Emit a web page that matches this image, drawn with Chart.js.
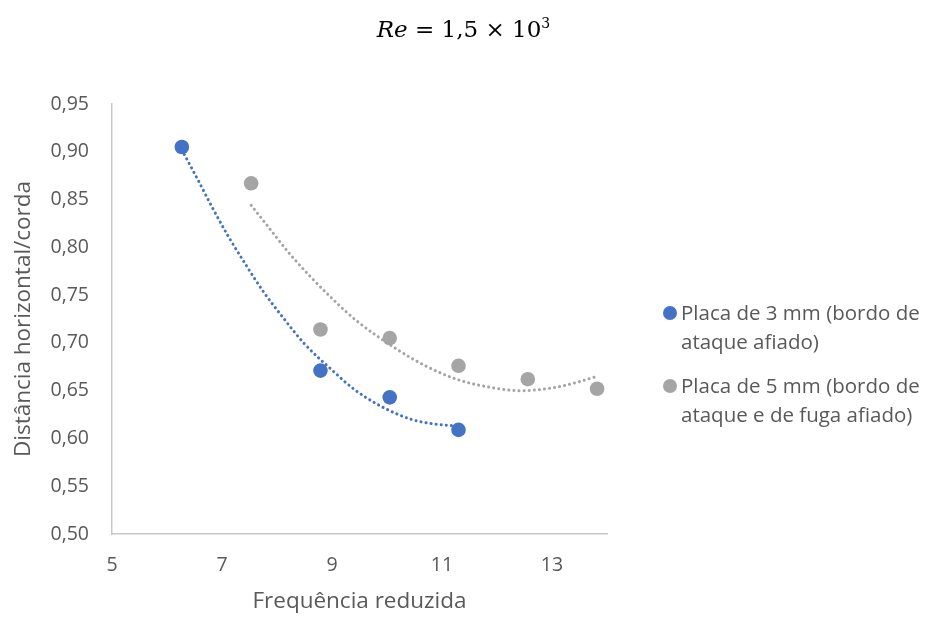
<!DOCTYPE html>
<html>
<head>
<meta charset="utf-8">
<script src="https://cdn.jsdelivr.net/npm/chart.js@4"></script>
<style>
  body { margin: 0; background: #fff; }
  #wrap { position: relative; width: 927px; height: 619px; }
  #title {
    position: absolute; left: 0; width: 927px; top: 15px; text-align: center;
    font-family: "DejaVu Serif", "Liberation Serif", serif; font-size: 23px; color: #000;
  }
  #title sup { font-size: 14px; }
  #legend {
    position: absolute; left: 660px; top: 298px; width: 272px;
    font-family: "Open Sans", sans-serif; font-size: 20.5px; color: #595959; line-height: 29px;
  }
  .item { position: relative; padding-left: 21px; margin-bottom: 15px; }
  .dot { position: absolute; left: 3px; top: 8px; width: 14px; height: 14px; border-radius: 50%; }
</style>
</head>
<body>
<div id="wrap">
  <canvas id="chart" width="927" height="619"></canvas>
  <div id="title"><i>Re</i> = 1,5 × 10<sup>3</sup></div>
  <div id="legend"></div>
</div>
<script>
// measured points
const freq3 = [6.27, 8.79, 10.05, 11.30];
const dist3 = [0.905, 0.671, 0.643, 0.609];
const freq5 = [7.53, 8.79, 10.05, 11.30, 12.56, 13.82];
const dist5 = [0.867, 0.714, 0.705, 0.676, 0.662, 0.652];

// trendlines
const trend3X = [6.27, 6.55, 6.83, 7.12, 7.43, 7.76, 8.13, 8.50, 9.05, 9.39, 9.88, 10.44, 10.87, 11.30];
const trend3Y = [0.902, 0.872, 0.841, 0.811, 0.782, 0.753, 0.725, 0.699, 0.669, 0.652, 0.634, 0.620, 0.615, 0.613];
const trend5X = [7.53, 7.82, 8.19, 8.58, 9.01, 9.45, 10.19, 10.70, 11.26, 11.83, 12.43, 13.02, 13.47, 13.82];
const trend5Y = [0.844, 0.823, 0.796, 0.771, 0.746, 0.723, 0.693, 0.676, 0.662, 0.654, 0.650, 0.653, 0.659, 0.665];

const xTicks = [5, 7, 9, 11, 13];
const yTicks = [0.50, 0.55, 0.60, 0.65, 0.70, 0.75, 0.80, 0.85, 0.90, 0.95];

const labels = [
  'Placa de 3 mm (bordo de ataque afiado)',
  'Placa de 5 mm (bordo de ataque e de fuga afiado)'
];
const BLUE = '#4472C4';
const GRAY = '#A5A5A5';

const pts = (xs, ys) => xs.map((x, i) => ({ x: x, y: ys[i] }));

const trendStyle = {
  type: 'line',
  showLine: true,
  pointRadius: 0,
  borderWidth: 3,
  borderDash: [0.1, 5],
  borderCapStyle: 'round',
  cubicInterpolationMode: 'monotone',
  fill: false,
  order: 0
};

const chart = new Chart(document.getElementById('chart'), {
  type: 'scatter',
  data: {
    datasets: [
      { label: labels[0], data: pts(freq3, dist3), backgroundColor: BLUE, borderColor: BLUE,
        pointRadius: 7.3, pointBorderWidth: 0, order: 1 },
      { label: labels[1], data: pts(freq5, dist5), backgroundColor: GRAY, borderColor: GRAY,
        pointRadius: 7.3, pointBorderWidth: 0, order: 1 },
      Object.assign({ label: 'trend3', data: pts(trend3X, trend3Y), borderColor: BLUE }, trendStyle),
      Object.assign({ label: 'trend5', data: pts(trend5X, trend5Y), borderColor: GRAY }, trendStyle)
    ]
  },
  options: {
    responsive: false,
    animation: false,
    layout: { padding: { top: 104, right: 320, left: 0, bottom: 0 } },
    plugins: {
      legend: { display: false },
      tooltip: { enabled: false }
    },
    scales: {
      x: {
        type: 'linear',
        min: 5, max: 14,
        grid: { display: false, drawTicks: false },
        border: { color: '#c9c9c9', width: 1.5 },
        afterBuildTicks: s => { s.ticks = xTicks.map(v => ({ value: v })); },
        afterFit: s => { s.height = 85; },
        ticks: {
          padding: 20,
          color: '#595959',
          font: { family: 'Open Sans', size: 19.5 }
        },
        title: {
          display: true,
          text: 'Frequência reduzida',
          color: '#595959',
          font: { family: 'Open Sans', size: 22.5 },
          padding: { top: 5 }
        }
      },
      y: {
        type: 'linear',
        min: 0.5, max: 0.95,
        grid: { display: false, drawTicks: false },
        border: { color: '#c9c9c9', width: 1.5 },
        afterBuildTicks: s => { s.ticks = yTicks.map(v => ({ value: v })); },
        afterFit: s => { s.width = 112; },
        ticks: {
          padding: 23,
          color: '#595959',
          font: { family: 'Open Sans', size: 19.5 },
          callback: v => v.toFixed(2).replace('.', ',')
        },
        title: {
          display: true,
          text: 'Distância horizontal/corda',
          color: '#595959',
          font: { family: 'Open Sans', size: 22.5 },
          padding: { top: 10, bottom: 0 }
        }
      }
    }
  }
});

// html legend so the long labels can wrap like the original
const legendEl = document.getElementById('legend');
chart.data.datasets.slice(0, 2).forEach(ds => {
  const item = document.createElement('div');
  item.className = 'item';
  const dot = document.createElement('span');
  dot.className = 'dot';
  dot.style.background = ds.backgroundColor;
  item.appendChild(dot);
  item.appendChild(document.createTextNode(ds.label));
  legendEl.appendChild(item);
});
</script>
</body>
</html>
